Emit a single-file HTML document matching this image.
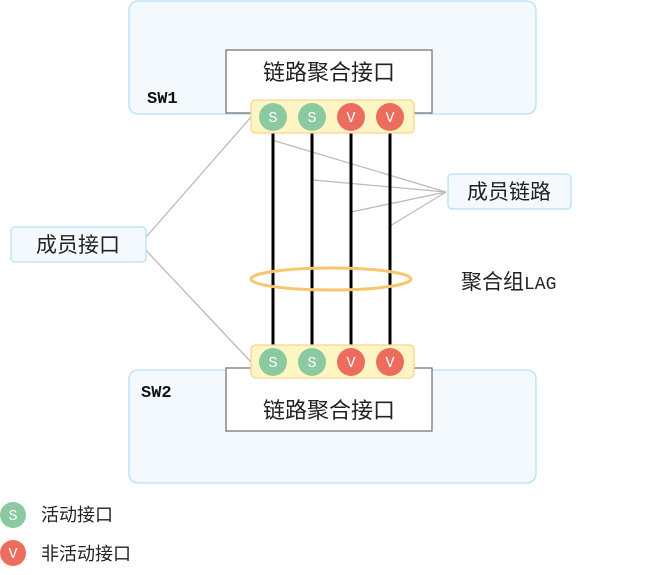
<!DOCTYPE html>
<html><head><meta charset="utf-8"><style>
body{margin:0;width:663px;height:570px;background:#fff;overflow:hidden}
svg text{font-family:"Liberation Sans","Noto Sans CJK SC",sans-serif}
svg text.m{font-family:"Liberation Mono",monospace}
</style></head><body>
<svg width="663" height="570" xmlns="http://www.w3.org/2000/svg">
<rect x="129" y="1" width="407" height="113" rx="9" fill="#f3f9fd" stroke="#b6e0f7" stroke-width="1.3"/>
<rect x="129" y="370" width="407" height="113" rx="9" fill="#f3f9fd" stroke="#b6e0f7" stroke-width="1.3"/>
<rect x="226" y="50" width="206" height="63" fill="#fff" stroke="#777" stroke-width="1.3"/>
<rect x="226" y="368" width="206" height="63" fill="#fff" stroke="#777" stroke-width="1.3"/>
<text x="329" y="80" font-size="22" text-anchor="middle" fill="#222">链路聚合接口</text>
<text x="329" y="418" font-size="22" text-anchor="middle" fill="#222">链路聚合接口</text>
<text class="m" x="147" y="103" font-size="17" font-weight="bold" fill="#111">SW1</text>
<text class="m" x="141" y="397" font-size="17" font-weight="bold" fill="#111">SW2</text>
<g stroke="#bbb" stroke-width="1.3" fill="none">
<line x1="140" y1="244" x2="251" y2="117"/><line x1="140" y1="244" x2="251" y2="362"/>
<line x1="446" y1="192" x2="272" y2="140"/><line x1="446" y1="192" x2="313" y2="180"/>
<line x1="446" y1="192" x2="351" y2="212"/><line x1="446" y1="192" x2="390" y2="226"/>
</g>
<g stroke="#000" stroke-width="3">
<line x1="273" y1="118" x2="273" y2="362"/><line x1="312" y1="118" x2="312" y2="362"/>
<line x1="351" y1="118" x2="351" y2="362"/><line x1="390" y1="118" x2="390" y2="362"/>
</g>
<ellipse cx="331" cy="279" rx="80" ry="11" fill="none" stroke="#f8c66a" stroke-width="3"/>
<rect x="251" y="100" width="163" height="33" rx="5" fill="#fdf5c4" stroke="#f8d48e" stroke-width="1.3"/>
<rect x="251" y="345" width="163" height="33" rx="5" fill="#fdf5c4" stroke="#f8d48e" stroke-width="1.3"/>
<g font-size="15" text-anchor="middle" fill="#fff">
<circle cx="273" cy="117" r="14" fill="#8bc9a0"/><text class="m" x="273" y="122">S</text>
<circle cx="312" cy="117" r="14" fill="#8bc9a0"/><text class="m" x="312" y="122">S</text>
<circle cx="351" cy="117" r="14" fill="#ec6d5e"/><text class="m" x="351" y="122">V</text>
<circle cx="390" cy="117" r="14" fill="#ec6d5e"/><text class="m" x="390" y="122">V</text>
<circle cx="273" cy="362" r="14" fill="#8bc9a0"/><text class="m" x="273" y="367">S</text>
<circle cx="312" cy="362" r="14" fill="#8bc9a0"/><text class="m" x="312" y="367">S</text>
<circle cx="351" cy="362" r="14" fill="#ec6d5e"/><text class="m" x="351" y="367">V</text>
<circle cx="390" cy="362" r="14" fill="#ec6d5e"/><text class="m" x="390" y="367">V</text>
<circle cx="13" cy="515" r="13" fill="#8bc9a0"/><text class="m" x="13" y="520">S</text>
<circle cx="13" cy="553" r="13" fill="#ec6d5e"/><text class="m" x="13" y="558">V</text>
</g>
<rect x="11" y="227" width="135" height="35" rx="4" fill="#f3f9fd" stroke="#b6e0f7" stroke-width="1.3"/>
<text x="78" y="252" font-size="21" text-anchor="middle" fill="#222">成员接口</text>
<rect x="448" y="174" width="123" height="35" rx="4" fill="#f3f9fd" stroke="#b6e0f7" stroke-width="1.3"/>
<text x="509" y="199" font-size="21" text-anchor="middle" fill="#222">成员链路</text>
<text x="461" y="289" font-size="21" fill="#222">聚合组<tspan class="m" font-family="Liberation Mono" font-size="18">LAG</tspan></text>
<text x="41" y="521" font-size="18" fill="#222">活动接口</text>
<text x="41" y="560" font-size="18" fill="#222">非活动接口</text>
</svg>
</body></html>
